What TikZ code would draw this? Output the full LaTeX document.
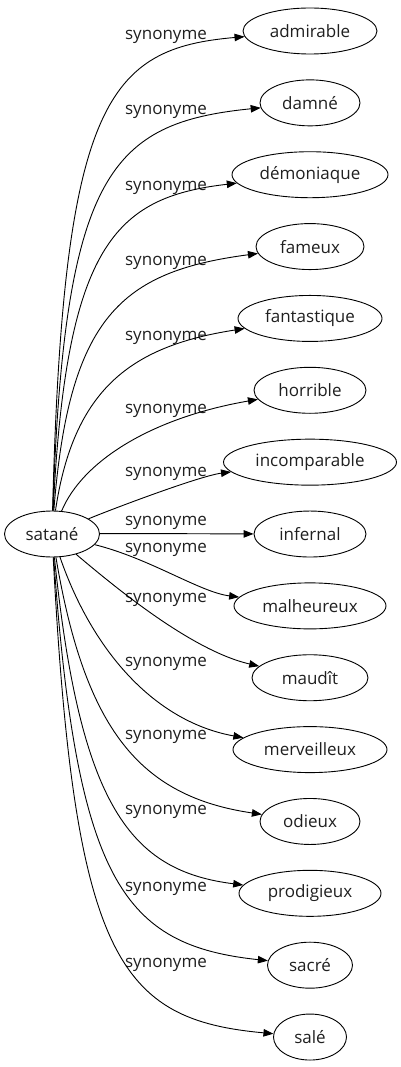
\documentclass[tikz,border=0pt]{standalone}
\usepackage{fontspec}
\setmainfont{Open Sans}
\usetikzlibrary{shapes.geometric,arrows.meta}
\tikzset{
  word/.style={ellipse, draw, line width=0.9pt, inner sep=0pt, minimum height=46pt, text=black!88},
  rel/.style={text=black!88, inner sep=0pt}
}
\begin{document}
\begin{tikzpicture}[x=1pt, y=-1pt, font=\fontsize{17}{20}\selectfont, line join=round, line width=0.9pt, >={Triangle[length=10pt,width=7.5pt]}]
			\def\sx{52} \def\sy{534}
			\useasboundingbox (0,0) rectangle (401,1067);
			\node[word, minimum width=95pt] (satane) at (\sx,\sy) {satané};
			\foreach \w/\wid/\ly [count=\i from 0] in {admirable/134/37, damné/100/112, démoniaque/156/188, fameux/108/263, fantastique/144/338, horrible/112/411, incomparable/173/474, infernal/112/523, malheureux/152/550, maudît/116/600, merveilleux/154/664, odieux/100/737, prodigieux/142/812, sacré/85/889, salé/73/965}{
				\pgfmathsetmacro\ty{31+71.86*\i}
				\node[word, minimum width=\wid pt] (t\i) at (310,\ty) {\w};
				\node[rel] (l\i) at (166,\ly) {synonyme};
				% control points of the edge (upper and lower edges bend a bit differently)
				\pgfmathsetmacro\u{max(abs(\ty-\sy),1)}
				\pgfmathsetmacro\sg{sign(\ty-\sy)}
				\pgfmathsetmacro\ax{\sg<0 ? min(55+4000/\u,150) : min(60+7200/\u,150)}
				\pgfmathsetmacro\bx{\sg<0 ? min(90+9000/\u,200) : min(90+14400/\u,200)}
				\pgfmathsetmacro\ay{\sg<0 ? \ty+min(0.66*\u,70) : \ty-\sg*(\u<144 ? 0.66*\u : 100-0.06*(\u-144))}
				\pgfmathsetmacro\by{\ty-\sg*(\u<144 ? 0.19*\u : 30-0.035*(\u-144))}
				\draw[->] (satane) .. controls (\ax,\ay) and (\bx,\by) .. (t\i);
			}
		\end{tikzpicture}
\end{document}
